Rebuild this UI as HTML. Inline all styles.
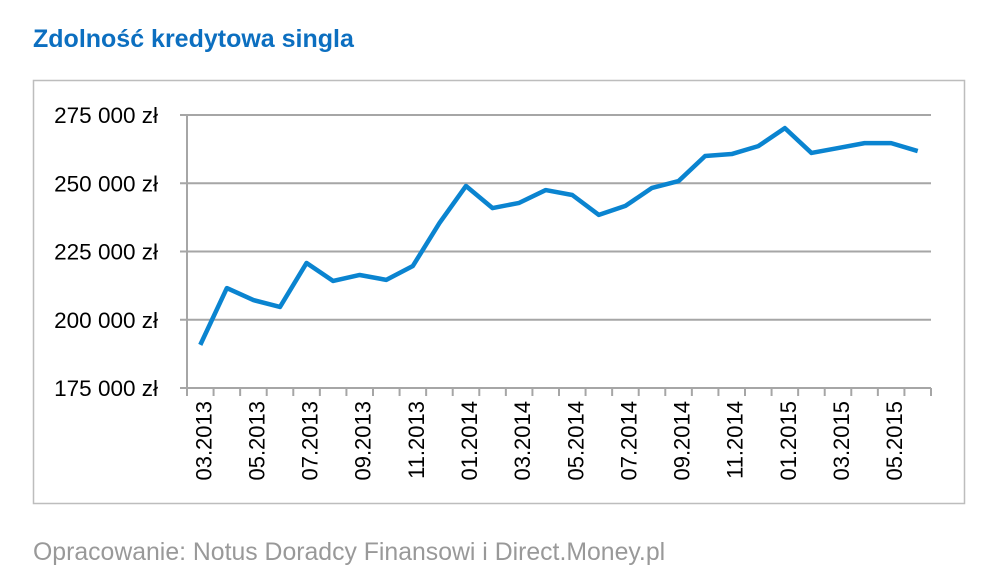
<!DOCTYPE html>
<html><head><meta charset="utf-8"><style>
body{margin:0;background:#fff;font-family:"Liberation Sans",sans-serif;}
</style></head><body>
<svg width="1000" height="585" style="display:block">
<text x="33" y="47" font-size="25" font-weight="bold" fill="#0c6fc0">Zdolność kredytowa singla</text>
<rect x="33.5" y="80.5" width="931" height="423" fill="none" stroke="#bdbdbd" stroke-width="1.5"/>
<g id="grid"></g><g id="axes"></g><g id="plot"></g>
<text x="33" y="560" font-size="24.8" fill="#999">Opracowanie: Notus Doradcy Finansowi i Direct.Money.pl</text>
</svg>
<script>
const categories=["03.2013","04.2013","05.2013","06.2013","07.2013","08.2013","09.2013","10.2013","11.2013","12.2013","01.2014","02.2014","03.2014","04.2014","05.2014","06.2014","07.2014","08.2014","09.2014","10.2014","11.2014","12.2014","01.2015","02.2015","03.2015","04.2015","05.2015","06.2015"];
const values=[190800,211600,207200,204700,220800,214200,216400,214600,219700,235400,249000,240900,242800,247500,245700,238400,241700,248300,250800,260000,260700,263600,270200,261100,262900,264700,264700,261800];
const yTicks=[175000,200000,225000,250000,275000];
const yLabels=["175 000 zł","200 000 zł","225 000 zł","250 000 zł","275 000 zł"];
const NS="http://www.w3.org/2000/svg";
const x0=187,x1=931,yTop=115,yBot=388,vMin=175000,vMax=275000;
const step=(x1-x0)/categories.length;
const xs=i=>x0+step*(i+0.5);
const ys=v=>yBot-(v-vMin)/(vMax-vMin)*(yBot-yTop);
function mk(t,a,p){const e=document.createElementNS(NS,t);for(const k in a)e.setAttribute(k,a[k]);p.appendChild(e);return e;}
const grid=document.getElementById('grid'),axes=document.getElementById('axes'),plot=document.getElementById('plot');
yTicks.forEach((v,i)=>{
 const y=ys(v);
 const l=mk('line',{x1:x0-7,x2:x1,y1:y,y2:y,stroke:'#a6a6a6','stroke-width':2},grid);
 
 
 const t=mk('text',{x:158,y:y+8,'font-size':22.5,'text-anchor':'end',fill:'#000'},axes);
 t.textContent=yLabels[i];
 
 
});
const ya=mk('line',{x1:x0,x2:x0,y1:yTop,y2:yBot,stroke:'#a6a6a6','stroke-width':2},axes);


for(let i=0;i<=categories.length;i++){
 const x=x0+step*i;
 const tk=mk('line',{x1:x,x2:x,y1:yBot,y2:yBot+8,stroke:'#a6a6a6','stroke-width':2},axes);
 
 
}
categories.forEach((c,i)=>{
 if(i%2)return;
 const x=xs(i)+11;
 const t=mk('text',{x:0,y:0,'font-size':22,'text-anchor':'end',fill:'#000'},axes);
 t.setAttribute('transform',`translate(${x},401) rotate(-90)`);
 t.textContent=c;
 
 
});
const p=mk('polyline',{points:values.map((v,i)=>xs(i)+','+ys(v)).join(' '),fill:'none',stroke:'#0a84d0','stroke-width':4.5,'stroke-linejoin':'round'},plot);


</script>
</body></html>
